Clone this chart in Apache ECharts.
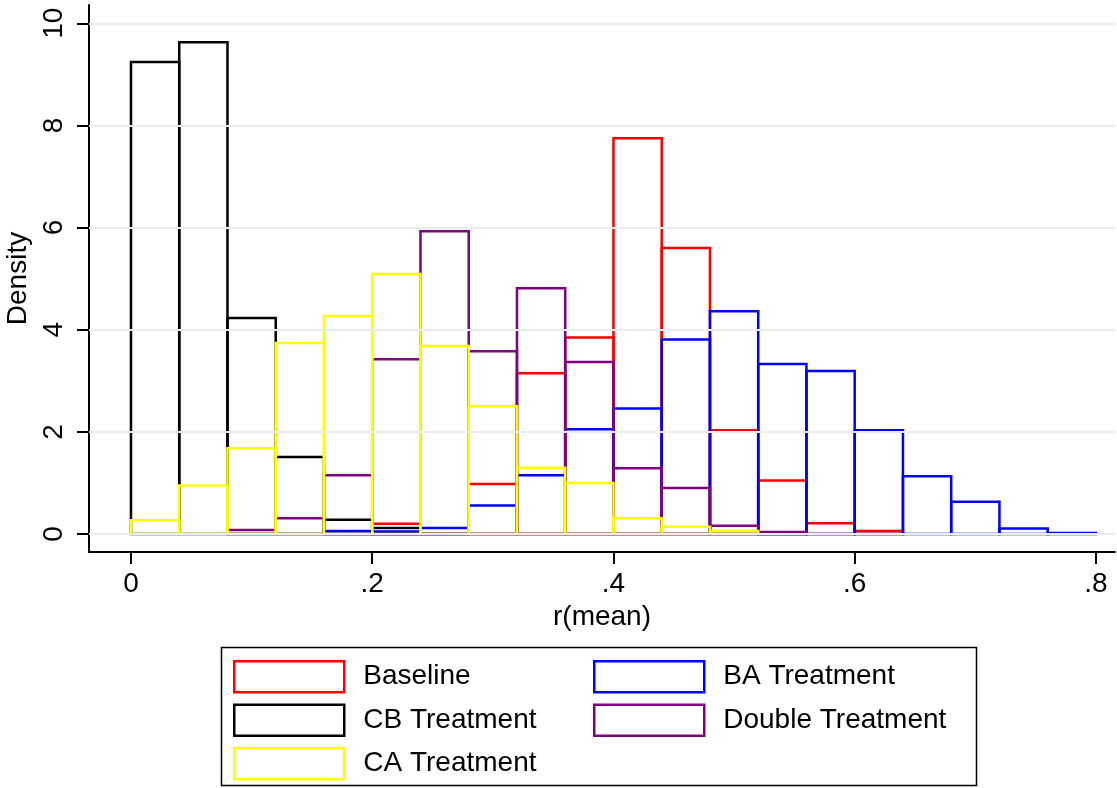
<!DOCTYPE html>
<html>
<head>
<meta charset="utf-8">
<script src="https://cdn.jsdelivr.net/npm/echarts@6/dist/echarts.min.js"></script>
<style>
html,body{margin:0;padding:0;background:#fff;}
#chart{width:1117px;height:788px;}
</style>
</head>
<body>
<div id="chart"></div>
<script>
// Histogram bins (left edges), width 0.04
const binStart = [0, 0.04, 0.08, 0.12, 0.16, 0.20, 0.24, 0.28, 0.32, 0.36,
                  0.40, 0.44, 0.48, 0.52, 0.56, 0.60, 0.64, 0.68, 0.72, 0.76];
const binWidth = 0.04;

// Density values per bin (null = no bar)
const baseline = [null, null, null, null, null, 0.20, 0.00, 0.98, 3.15, 3.85,
                  7.75, 5.60, 2.03, 1.05, 0.21, 0.06, null, null, null, null];
const baTreatment = [null, null, null, null, 0.06, 0.05, 0.12, 0.56, 1.15, 2.05,
                     2.46, 3.81, 4.36, 3.33, 3.19, 2.03, 1.13, 0.63, 0.11, 0.02];
const cbTreatment = [9.24, 9.63, 4.23, 1.51, 0.28, 0.12, 0.00, null, null, null,
                     null, null, null, null, null, null, null, null, null, null];
const doubleTreatment = [null, null, 0.08, 0.31, 1.15, 3.42, 5.93, 3.58, 4.81, 3.37,
                         1.29, 0.90, 0.16, 0.04, null, null, null, null, null, null];
const caTreatment = [0.27, 0.95, 1.68, 3.74, 4.27, 5.09, 3.68, 2.50, 1.30, 1.00,
                     0.31, 0.14, 0.06, null, null, null, null, null, null, null];

const xTicks = [0, 0.2, 0.4, 0.6, 0.8];
const yTicks = [0, 2, 4, 6, 8, 10];

const seriesDefs = [
  {name: 'Baseline', values: baseline, color: '#ff0000'},
  {name: 'BA Treatment', values: baTreatment, color: '#0000ff'},
  {name: 'CB Treatment', values: cbTreatment, color: '#000000'},
  {name: 'Double Treatment', values: doubleTreatment, color: '#800080'},
  {name: 'CA Treatment', values: caTreatment, color: '#ffff00'}
];

const FONT = "'Liberation Sans', Helvetica, Arial, sans-serif";
const FS = 28;

function toData(values) {
  const out = [];
  values.forEach((v, i) => {
    if (v !== null) out.push([binStart[i], binStart[i] + binWidth, v]);
  });
  return out;
}

function makeRender(color) {
  return function (params, api) {
    const x0 = api.value(0), x1 = api.value(1), v = api.value(2);
    const pTop = api.coord([x0, v]);
    const pBot = api.coord([x1, 0]);
    return {
      type: 'rect',
      shape: {x: pTop[0], y: pTop[1], width: pBot[0] - pTop[0], height: pBot[1] - pTop[1]},
      style: {fill: 'none', stroke: color, lineWidth: 2.5}
    };
  };
}

const series = [{
  type: 'line', data: [], z: 1, silent: true,
  markLine: {
    silent: true, symbol: ['none', 'none'], label: {show: false},
    lineStyle: {color: '#e6eef1', width: 2, type: 'solid'},
    data: yTicks.map(t => ({yAxis: t}))
  }
}];
seriesDefs.forEach(s => {
  series.push({
    name: s.name, type: 'custom', z: 2,
    data: toData(s.values),
    renderItem: makeRender(s.color),
    itemStyle: {color: s.color},
    encode: {x: [0, 1], y: 2}
  });
});

function legendItem(s) {
  return {name: s.name, icon: 'rect', itemStyle: {color: '#ffffff', borderColor: s.color, borderWidth: 2.5}};
}
const legendText = {fontFamily: FONT, fontSize: FS, color: '#000', padding: [0, 0, 0, 14], lineHeight: 31};

const chart = echarts.init(document.getElementById('chart'), null, {renderer: 'canvas'});
chart.setOption({
  backgroundColor: '#ffffff',
  animation: false,
  grid: {left: 89, top: 5, right: 2, bottom: 788 - 552, outerBoundsMode: 'none', containLabel: false},
  xAxis: {
    type: 'value', min: -0.0348, max: 0.8158,
    name: 'r(mean)', nameLocation: 'middle', nameGap: 51,
    nameTextStyle: {fontFamily: FONT, fontSize: FS, color: '#000'},
    axisLine: {show: true, onZero: false, lineStyle: {color: '#000', width: 2}},
    axisTick: {show: true, customValues: xTicks, length: 12, lineStyle: {color: '#000', width: 2}},
    axisLabel: {
      customValues: xTicks, margin: 18, fontFamily: FONT, fontSize: FS, color: '#000',
      formatter: v => (v === 0 ? '0' : v.toFixed(1).replace(/^0/, ''))
    },
    splitLine: {show: false}
  },
  yAxis: {
    type: 'value', min: -0.352, max: 10.358,
    name: 'Density', nameLocation: 'middle', nameGap: 50, nameRotate: 90,
    nameTextStyle: {fontFamily: FONT, fontSize: FS, color: '#000'},
    axisLine: {show: true, onZero: false, lineStyle: {color: '#000', width: 2}},
    axisTick: {show: true, customValues: yTicks, length: 12, lineStyle: {color: '#000', width: 2}},
    axisLabel: {
      customValues: yTicks, rotate: 90, margin: 21, fontFamily: FONT, fontSize: FS, color: '#000'
    },
    splitLine: {show: false}
  },
  legend: [
    {
      orient: 'vertical', left: 233, top: 660, padding: 0, height: 125,
      itemWidth: 110, itemHeight: 31, itemGap: 10,
      selectedMode: false, textStyle: legendText,
      data: [seriesDefs[0], seriesDefs[2], seriesDefs[4]].map(legendItem)
    },
    {
      orient: 'vertical', left: 593, top: 660, padding: 0, height: 125,
      itemWidth: 110, itemHeight: 31, itemGap: 10,
      selectedMode: false, textStyle: legendText,
      data: [seriesDefs[1], seriesDefs[3]].map(legendItem)
    }
  ],
  graphic: [{
    type: 'rect', silent: true,
    shape: {x: 221.5, y: 647.5, width: 755, height: 138},
    style: {fill: 'none', stroke: '#000', lineWidth: 1.5}
  }],
  series: series
});
</script>
</body>
</html>
